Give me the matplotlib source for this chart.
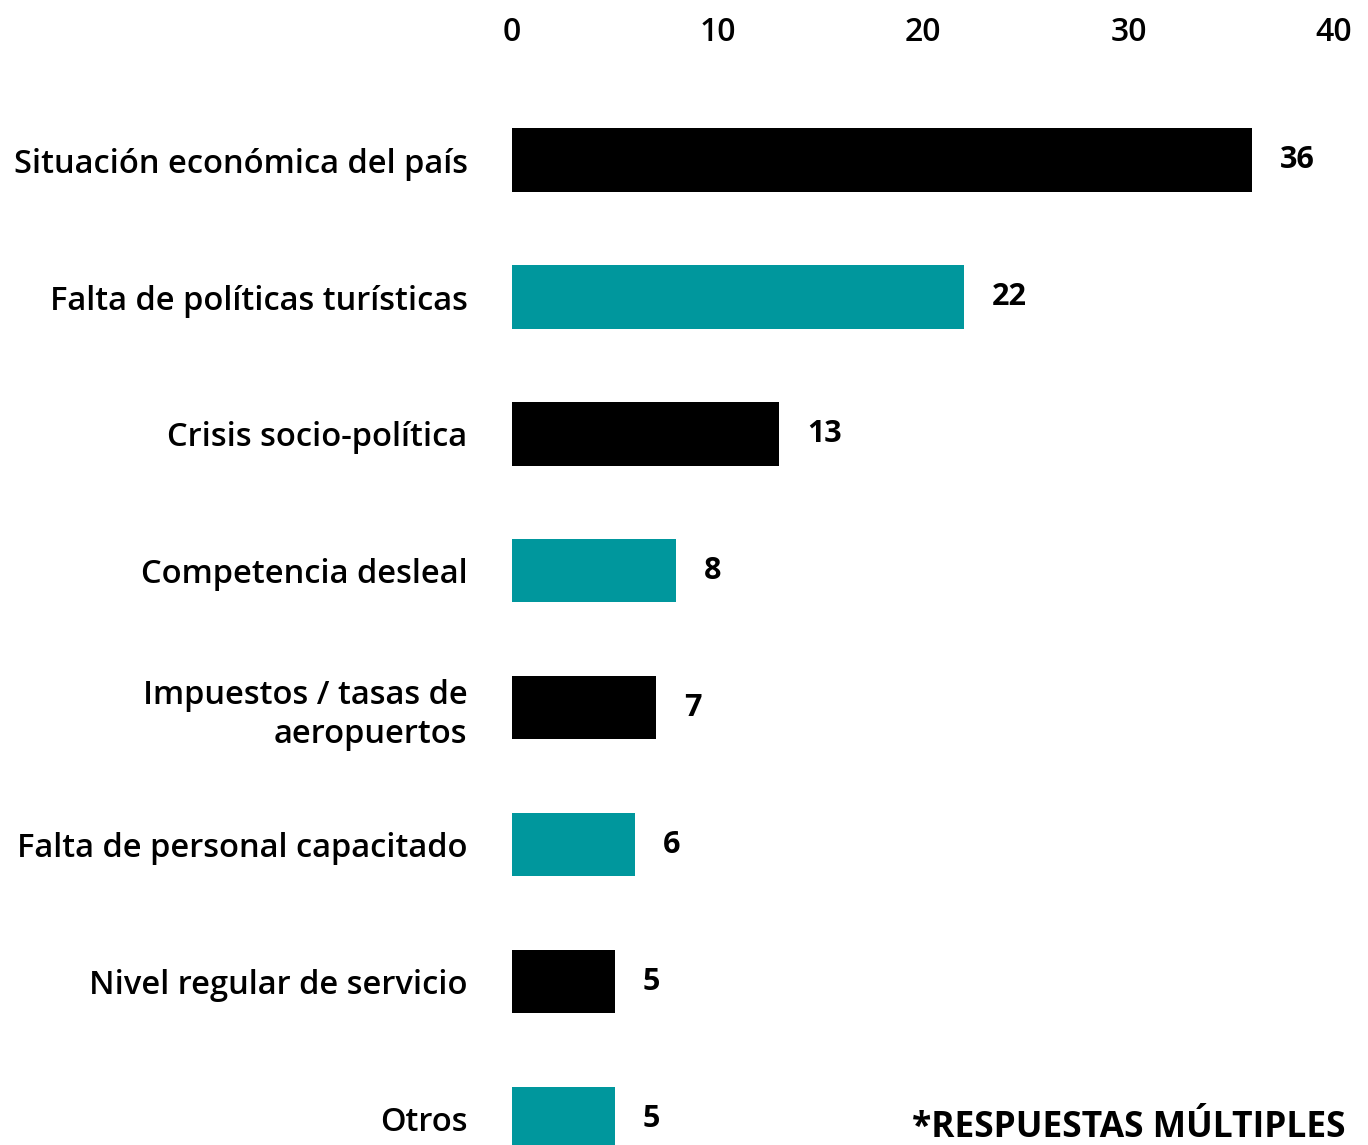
import matplotlib.pyplot as plt
from matplotlib.transforms import offset_copy

plt.rcParams['font.family'] = ['Open Sans', 'DejaVu Sans']

# Respuestas por motivo (respuestas múltiples)
categorias = [
    'Situación económica del país',
    'Falta de políticas turísticas',
    'Crisis socio-política',
    'Competencia desleal',
    'Impuestos / tasas de\naeropuertos',
    'Falta de personal capacitado',
    'Nivel regular de servicio',
    'Otros',
]
valores = [36, 22, 13, 8, 7, 6, 5, 5]
colores = ['#000000', '#00979d'] * 4
ticks_x = [0, 10, 20, 30, 40]

fig = plt.figure(figsize=(13.68, 11.45), dpi=100)
ax = fig.add_axes([512 / 1368, 0.0, (1334 - 512) / 1368, 1 - 80 / 1145])

pos = list(range(len(categorias)))
ax.barh(pos, valores, height=0.46, color=colores)

ax.set_xlim(0, 40)
ax.set_ylim(7.19, -0.584)

ax.xaxis.tick_top()
ax.set_xticks(ticks_x)
ax.set_xticklabels([str(t) for t in ticks_x], fontsize=23, fontweight='semibold')
ax.tick_params(axis='x', length=0, pad=22)

ax.set_yticks(pos)
ax.set_yticklabels(categorias, fontsize=23.5, fontweight='semibold',
                   linespacing=1.25)
ax.tick_params(axis='y', length=0, pad=32)

for s in ax.spines.values():
    s.set_visible(False)

# etiquetas de valor al final de cada barra
for y, v in zip(pos, valores):
    tr = offset_copy(ax.transData, fig=fig, x=20, y=0, units='points')
    ax.text(v, y, str(v), transform=tr, ha='left', va='center',
            fontsize=22, fontweight='bold')

fig.text(1345 / 1368, 1 - 1128 / 1145, '*RESPUESTAS MÚLTIPLES', ha='right',
         va='center', fontsize=25.5, fontweight='bold')

fig.savefig('out.png', dpi=100, facecolor='white')
